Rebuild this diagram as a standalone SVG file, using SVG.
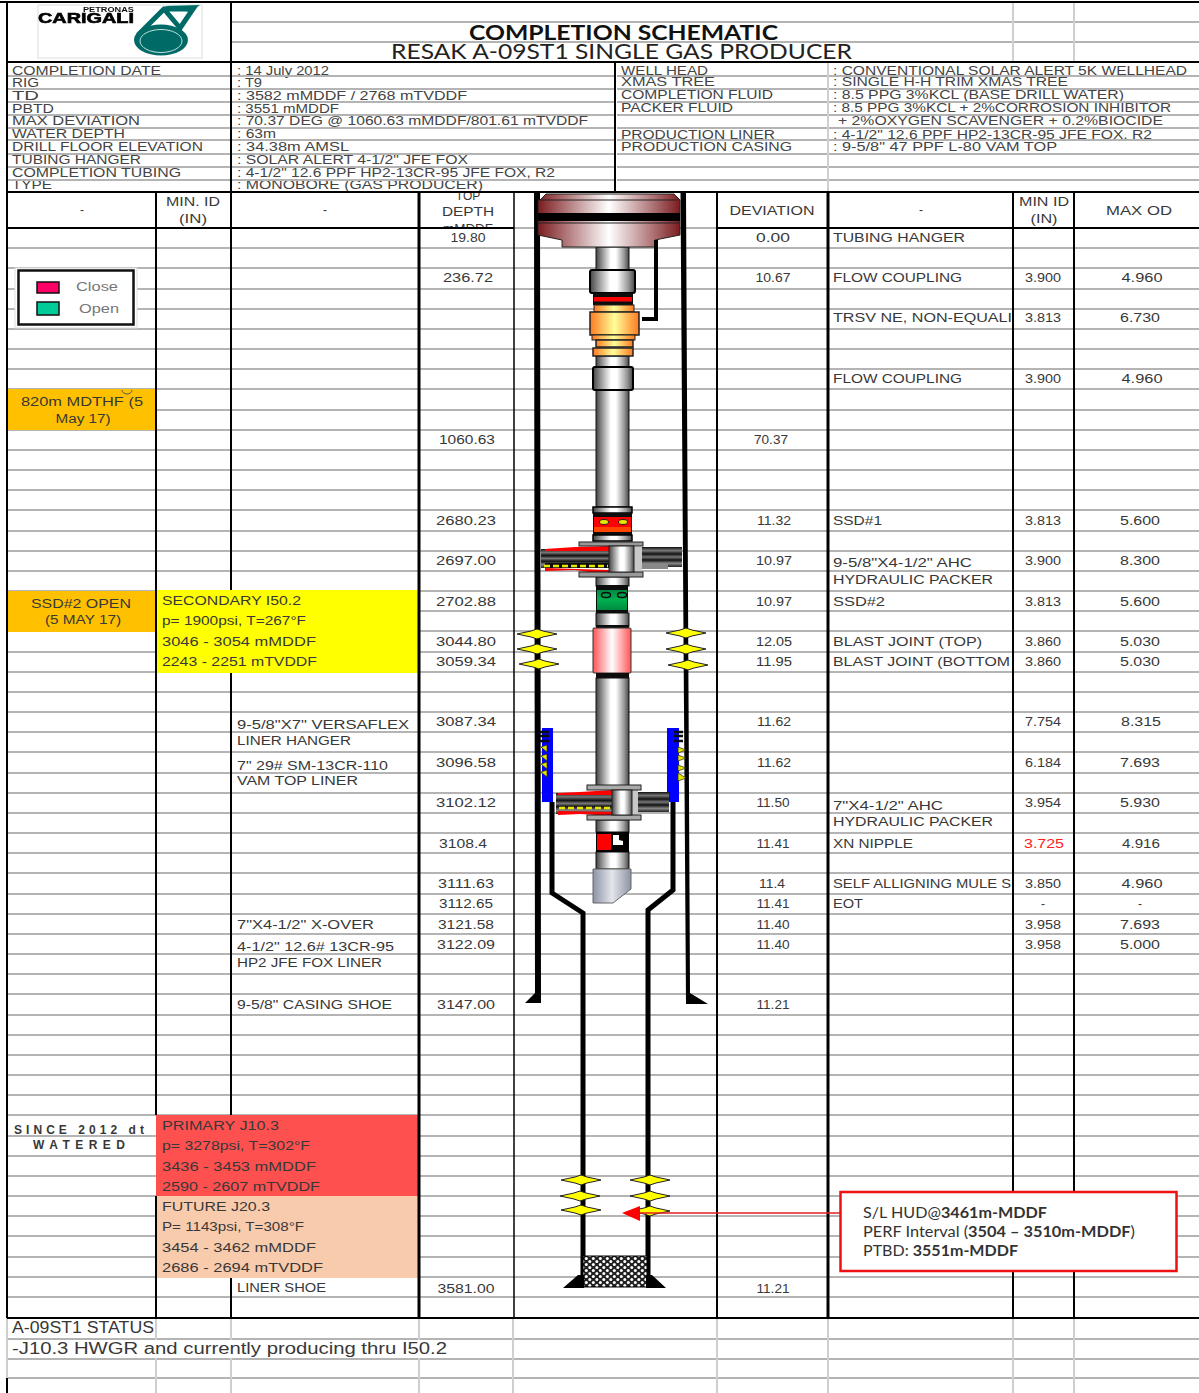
<svg xmlns="http://www.w3.org/2000/svg" width="1199" height="1393" viewBox="0 0 1199 1393">
<style>
text{font-family:"Liberation Sans",Arial,sans-serif;font-size:12px;fill:#383838;white-space:pre}
.m{font-size:12px;fill:#444}
.c{text-anchor:middle}
.l{font-family:Lato,"Open Sans",sans-serif}
.s{font-size:16px}
</style>
<defs>
<filter id="soft" x="-5%" y="-5%" width="110%" height="110%"><feGaussianBlur stdDeviation="0.5"/></filter>
<linearGradient id="metal"><stop offset="0" stop-color="#444"/><stop offset=".2" stop-color="#999"/><stop offset=".45" stop-color="#fff"/><stop offset=".6" stop-color="#fff"/><stop offset=".85" stop-color="#999"/><stop offset="1" stop-color="#444"/></linearGradient>
<linearGradient id="wine"><stop offset="0" stop-color="#7b1c20"/><stop offset=".5" stop-color="#fff"/><stop offset="1" stop-color="#7b1c20"/></linearGradient>
<linearGradient id="orange"><stop offset="0" stop-color="#ff7a20"/><stop offset=".5" stop-color="#ffff99"/><stop offset="1" stop-color="#ff7a20"/></linearGradient>
<linearGradient id="pink"><stop offset="0" stop-color="#ff5555"/><stop offset=".5" stop-color="#fff"/><stop offset="1" stop-color="#ff5555"/></linearGradient>
<linearGradient id="green" x2="0" y2="1"><stop offset="0" stop-color="#008a40"/><stop offset=".5" stop-color="#00b050"/><stop offset="1" stop-color="#008a40"/></linearGradient>
<linearGradient id="mule"><stop offset="0" stop-color="#8d93a6"/><stop offset=".5" stop-color="#e4e6ea"/><stop offset="1" stop-color="#8d93a6"/></linearGradient>
<linearGradient id="slip" x2="0" y2="1"><stop offset="0" stop-color="#111"/><stop offset=".18" stop-color="#777"/><stop offset=".35" stop-color="#111"/><stop offset=".5" stop-color="#777"/><stop offset=".65" stop-color="#111"/><stop offset=".82" stop-color="#888"/><stop offset="1" stop-color="#222"/></linearGradient>
<pattern id="sand" width="7" height="6" patternUnits="userSpaceOnUse"><rect width="7" height="6" fill="#222"/><circle cx="1.800" cy="1.500" r="1.500" fill="#fff"/><circle cx="5.300" cy="4.500" r="1.500" fill="#fff"/></pattern>
<polygon id="perf" points="-20,0 -6,-3 0,-5 6,-3 20,0 6,3 0,5 -6,3" fill="#ffff00" stroke="#222" stroke-width="1"/>
<clipPath id="hdr"><rect x="420" y="193" width="93" height="34"/></clipPath>
<clipPath id="well"><rect x="514" y="193" width="203" height="60"/></clipPath>
</defs>
<rect width="1199" height="1393" fill="#fff"/>

<g id="meta-text">
<text class="m" x="12" y="75" textLength="149" lengthAdjust="spacingAndGlyphs">COMPLETION DATE</text>
<text class="m" x="12" y="87" textLength="27" lengthAdjust="spacingAndGlyphs">RIG</text>
<text class="m" x="12" y="100" textLength="27" lengthAdjust="spacingAndGlyphs">TD</text>
<text class="m" x="12" y="113" textLength="42" lengthAdjust="spacingAndGlyphs">PBTD</text>
<text class="m" x="12" y="125" textLength="128" lengthAdjust="spacingAndGlyphs">MAX DEVIATION</text>
<text class="m" x="12" y="138" textLength="113" lengthAdjust="spacingAndGlyphs">WATER DEPTH</text>
<text class="m" x="12" y="151" textLength="191" lengthAdjust="spacingAndGlyphs">DRILL FLOOR ELEVATION</text>
<text class="m" x="12" y="164" textLength="129" lengthAdjust="spacingAndGlyphs">TUBING HANGER</text>
<text class="m" x="12" y="177" textLength="169" lengthAdjust="spacingAndGlyphs">COMPLETION TUBING</text>
<text class="m" x="12" y="189" textLength="40" lengthAdjust="spacingAndGlyphs">TYPE</text>
<text class="m" x="237" y="75" textLength="92" lengthAdjust="spacingAndGlyphs">: 14 July 2012</text>
<text class="m" x="237" y="87" textLength="25" lengthAdjust="spacingAndGlyphs">: T9</text>
<text class="m" x="237" y="100" textLength="230" lengthAdjust="spacingAndGlyphs">: 3582 mMDDF / 2768 mTVDDF</text>
<text class="m" x="237" y="113" textLength="102" lengthAdjust="spacingAndGlyphs">: 3551 mMDDF</text>
<text class="m" x="237" y="125" textLength="351" lengthAdjust="spacingAndGlyphs">: 70.37 DEG @ 1060.63 mMDDF/801.61 mTVDDF</text>
<text class="m" x="237" y="138" textLength="39" lengthAdjust="spacingAndGlyphs">: 63m</text>
<text class="m" x="237" y="151" textLength="112" lengthAdjust="spacingAndGlyphs">: 34.38m AMSL</text>
<text class="m" x="237" y="164" textLength="231" lengthAdjust="spacingAndGlyphs">: SOLAR ALERT 4-1/2" JFE FOX</text>
<text class="m" x="237" y="177" textLength="318" lengthAdjust="spacingAndGlyphs">: 4-1/2" 12.6 PPF HP2-13CR-95 JFE FOX, R2</text>
<text class="m" x="237" y="189" textLength="246" lengthAdjust="spacingAndGlyphs">: MONOBORE (GAS PRODUCER)</text>
<text class="m" x="621" y="75" textLength="87" lengthAdjust="spacingAndGlyphs">WELL HEAD</text>
<text class="m" x="621" y="86" textLength="94" lengthAdjust="spacingAndGlyphs">XMAS TREE</text>
<text class="m" x="621" y="99" textLength="152" lengthAdjust="spacingAndGlyphs">COMPLETION FLUID</text>
<text class="m" x="621" y="112" textLength="112" lengthAdjust="spacingAndGlyphs">PACKER FLUID</text>
<text class="m" x="621" y="139" textLength="154" lengthAdjust="spacingAndGlyphs">PRODUCTION LINER</text>
<text class="m" x="621" y="151" textLength="171" lengthAdjust="spacingAndGlyphs">PRODUCTION CASING</text>
<text class="m" x="833" y="75" textLength="354" lengthAdjust="spacingAndGlyphs">: CONVENTIONAL SOLAR ALERT 5K WELLHEAD</text>
<text class="m" x="833" y="86" textLength="235" lengthAdjust="spacingAndGlyphs">: SINGLE H-H TRIM XMAS TREE</text>
<text class="m" x="833" y="99" textLength="291" lengthAdjust="spacingAndGlyphs">: 8.5 PPG 3%KCL (BASE DRILL WATER)</text>
<text class="m" x="833" y="112" textLength="338" lengthAdjust="spacingAndGlyphs">: 8.5 PPG 3%KCL + 2%CORROSION INHIBITOR</text>
<text class="m" x="838" y="125" textLength="325" lengthAdjust="spacingAndGlyphs">+ 2%OXYGEN SCAVENGER + 0.2%BIOCIDE</text>
<text class="m" x="833" y="139" textLength="319" lengthAdjust="spacingAndGlyphs">: 4-1/2" 12.6 PPF HP2-13CR-95 JFE FOX, R2</text>
<text class="m" x="833" y="151" textLength="224" lengthAdjust="spacingAndGlyphs">: 9-5/8" 47 PPF L-80 VAM TOP</text>
</g>

<g id="grid">
<path fill="none" stroke="#b4b4b4" stroke-width="2" d="M232 22H1199M232 42H1199M7 76H615M7 89H615M7 102H615M7 115H615M7 128H615M7 140H615M7 154H615M7 167H615M7 180H615M617 76H1199M617 89H1199M617 102H1199M617 115H1199M617 128H1199M617 140H1199M617 154H1199M617 167H1199M617 180H1199
M7 248H1199M7 268H1199M7 289H1199M7 309H1199M7 329H1199M7 349H1199M7 369H1199M7 389H1199M7 410H1199M7 430H1199M7 450H1199M7 470H1199M7 490H1199M7 510H1199M7 531H1199M7 551H1199M7 571H1199M7 591H1199M7 611H1199M7 631H1199M7 652H1199M7 672H1199M7 692H1199M7 712H1199M7 732H1199M7 752H1199M7 773H1199M7 793H1199M7 813H1199M7 833H1199M7 853H1199M7 873H1199M7 894H1199M7 914H1199M7 934H1199M7 954H1199M7 974H1199M7 994H1199M7 1015H1199M7 1035H1199M7 1055H1199M7 1075H1199M7 1095H1199M7 1115H1199M7 1136H1199M7 1156H1199M7 1176H1199M7 1196H1199M7 1216H1199M7 1236H1199M7 1257H1199M7 1277H1199M7 1297H1199M7 1339H1199M7 1359H1199M7 1378H1199M514 228H717"/>
<path fill="none" stroke="#cfcfcf" stroke-width="2" d="M1013 2V62M1074 2V62M828 62V192M156 1318V1393M231 1318V1393M419 1318V1393M513 1318V1393M717 1318V1393M828 1318V1393M1013 1318V1393M1074 1318V1393M7 1318V1378"/>
<rect x="8" y="1340" width="504" height="18" fill="#fff"/>
<rect x="618" y="155" width="208" height="11" fill="#fff"/>
<rect x="830" y="155" width="369" height="11" fill="#fff"/>
<rect x="156" y="590" width="263" height="83" fill="#ffff00"/>
<rect x="156" y="1115" width="263" height="81" fill="#ff5050"/>
<rect x="156" y="1196" width="263" height="82" fill="#f8cbad"/>
<rect x="8" y="389" width="148" height="41" fill="#ffc000"/>
<rect x="8" y="591" width="148" height="41" fill="#ffc000"/>
<path fill="none" stroke="#000" stroke-width="2" d="M0 2H1199M7 62H1199M7 192H1199M7 228H514M717 228H1199M7 1318H1199M7 2V1318M7 1378V1393M231 2V192M615 62V192M156 192V1115M156 1196V1318M231 192V590M231 673V1115M231 1278V1318M1013 192V1318M1074 192V1318M717 192V1318"/>
<path fill="none" stroke="#000" stroke-width="3" d="M419 192V1318M828 192V1318"/>
<path fill="none" stroke="#000" stroke-width="1.500" d="M514 192V1318"/>
</g>

<g id="logo" filter="url(#soft)">
<rect x="38" y="5" width="164" height="53" fill="#fff" stroke="#ddd"/>
<text x="83" y="12" font-weight="700" style="font-size:7px;fill:#111" textLength="51" lengthAdjust="spacingAndGlyphs">PETRONAS</text>
<text x="38" y="23" font-weight="700" style="font-size:14px;fill:#000;stroke:#000;stroke-width:.6" textLength="96" lengthAdjust="spacingAndGlyphs">CARIGALI</text>
<ellipse cx="161" cy="40" rx="27" ry="15.500" fill="#006b66"/>
<ellipse cx="161" cy="41" rx="21" ry="11.500" fill="none" stroke="#bfe0dc" stroke-width="1"/>
<path d="M138 35 164 9H193L178 31M164 9 180 28" fill="none" stroke="#006b66" stroke-width="5"/>
<polygon points="164,6 200,5 190,12" fill="#006b66"/>
</g>

<g id="title">
<text class="l" x="469" y="40" font-weight="700" style="font-size:20px;fill:#111" textLength="309" lengthAdjust="spacingAndGlyphs">COMPLETION SCHEMATIC</text>
<text class="l" x="391" y="59" style="font-size:20.500px;fill:#222" textLength="461" lengthAdjust="spacingAndGlyphs">RESAK A-09ST1 SINGLE GAS PRODUCER</text>
</g>

<g id="header">
<text class="c" x="82" y="214">-</text>
<text class="c" x="193" y="206" textLength="54" lengthAdjust="spacingAndGlyphs">MIN. ID</text>
<text class="c" x="193" y="223" textLength="28" lengthAdjust="spacingAndGlyphs">(IN)</text>
<text class="c" x="325" y="214">-</text>
<g clip-path="url(#hdr)">
<text class="c" x="468" y="200">TOP</text>
<text class="c" x="468" y="216" textLength="52" lengthAdjust="spacingAndGlyphs">DEPTH</text>
<text class="c" x="468" y="233" textLength="50" lengthAdjust="spacingAndGlyphs">mMDDF</text>
</g>
<text class="c" x="772" y="215" textLength="85" lengthAdjust="spacingAndGlyphs">DEVIATION</text>
<text class="c" x="921" y="214">-</text>
<text class="c" x="1044" y="206" textLength="50" lengthAdjust="spacingAndGlyphs">MIN ID</text>
<text class="c" x="1044" y="223" textLength="27" lengthAdjust="spacingAndGlyphs">(IN)</text>
<text class="c" x="1139" y="215" textLength="66" lengthAdjust="spacingAndGlyphs">MAX OD</text>
</g>

<g id="legend">
<rect x="15" y="268" width="122" height="60" fill="#fff" stroke="#ddd"/>
<rect x="18.500" y="270.500" width="115" height="54" fill="#fff" stroke="#111" stroke-width="2.500"/>
<rect x="37" y="282" width="22" height="11" fill="#ff0066" stroke="#111" stroke-width="1.500"/>
<rect x="37" y="302" width="22" height="13" fill="#00cc99" stroke="#111" stroke-width="1.500"/>
<text class="c" x="97" y="291" style="fill:#777" textLength="42" lengthAdjust="spacingAndGlyphs">Close</text>
<text class="c" x="99" y="313" style="fill:#777" textLength="40" lengthAdjust="spacingAndGlyphs">Open</text>
</g>

<g id="left-notes">
<path d="M122 390a5 4 0 0 0 10 0" fill="none" stroke="#555"/>
<text class="c" x="82" y="406" textLength="122" lengthAdjust="spacingAndGlyphs">820m MDTHF (5</text>
<text class="c" x="83" y="423" textLength="55" lengthAdjust="spacingAndGlyphs">May 17)</text>
<text class="c" x="81" y="608" textLength="100" lengthAdjust="spacingAndGlyphs">SSD#2 OPEN</text>
<text class="c" x="83" y="624" textLength="76" lengthAdjust="spacingAndGlyphs">(5 MAY 17)</text>
<text class="c" x="79" y="1134" font-weight="700" textLength="130" lengthAdjust="spacing">SINCE 2012 dt</text>
<text class="c" x="79" y="1149" font-weight="700" textLength="92" lengthAdjust="spacing">WATERED</text>
<text x="162" y="605" textLength="139" lengthAdjust="spacingAndGlyphs">SECONDARY I50.2</text>
<text x="162" y="625" textLength="144" lengthAdjust="spacingAndGlyphs">p= 1900psi, T=267°F</text>
<text x="162" y="646" textLength="154" lengthAdjust="spacingAndGlyphs">3046 - 3054 mMDDF</text>
<text x="162" y="666" textLength="155" lengthAdjust="spacingAndGlyphs">2243 - 2251 mTVDDF</text>
<text x="162" y="1130" textLength="117" lengthAdjust="spacingAndGlyphs">PRIMARY J10.3</text>
<text x="162" y="1150" textLength="148" lengthAdjust="spacingAndGlyphs">p= 3278psi, T=302°F</text>
<text x="162" y="1171" textLength="154" lengthAdjust="spacingAndGlyphs">3436 - 3453 mMDDF</text>
<text x="162" y="1191" textLength="158" lengthAdjust="spacingAndGlyphs">2590 - 2607 mTVDDF</text>
<text x="162" y="1211" textLength="108" lengthAdjust="spacingAndGlyphs">FUTURE J20.3</text>
<text x="162" y="1231" textLength="142" lengthAdjust="spacingAndGlyphs">P= 1143psi, T=308°F</text>
<text x="162" y="1252" textLength="154" lengthAdjust="spacingAndGlyphs">3454 - 3462 mMDDF</text>
<text x="162" y="1272" textLength="161" lengthAdjust="spacingAndGlyphs">2686 - 2694 mTVDDF</text>
</g>

<g id="mid-labels">
<text x="237" y="729" textLength="172" lengthAdjust="spacingAndGlyphs">9-5/8"X7" VERSAFLEX</text>
<text x="237" y="745" textLength="114" lengthAdjust="spacingAndGlyphs">LINER HANGER</text>
<text x="237" y="770" textLength="151" lengthAdjust="spacingAndGlyphs">7" 29# SM-13CR-110</text>
<text x="237" y="785" textLength="121" lengthAdjust="spacingAndGlyphs">VAM TOP LINER</text>
<text x="237" y="929" textLength="137" lengthAdjust="spacingAndGlyphs">7"X4-1/2" X-OVER</text>
<text x="237" y="951" textLength="157" lengthAdjust="spacingAndGlyphs">4-1/2" 12.6# 13CR-95</text>
<text x="237" y="967" textLength="145" lengthAdjust="spacingAndGlyphs">HP2 JFE FOX LINER</text>
<text x="237" y="1009" textLength="155" lengthAdjust="spacingAndGlyphs">9-5/8" CASING SHOE</text>
<text x="237" y="1292" textLength="89" lengthAdjust="spacingAndGlyphs">LINER SHOE</text>
</g>

<g id="depth">
<text class="c" x="468" y="242" textLength="35" lengthAdjust="spacingAndGlyphs">19.80</text>
<text class="c" x="468" y="282" textLength="50" lengthAdjust="spacingAndGlyphs">236.72</text>
<text class="c" x="467" y="444" textLength="56" lengthAdjust="spacingAndGlyphs">1060.63</text>
<text class="c" x="466" y="525" textLength="60" lengthAdjust="spacingAndGlyphs">2680.23</text>
<text class="c" x="466" y="565" textLength="60" lengthAdjust="spacingAndGlyphs">2697.00</text>
<text class="c" x="466" y="606" textLength="60" lengthAdjust="spacingAndGlyphs">2702.88</text>
<text class="c" x="466" y="646" textLength="60" lengthAdjust="spacingAndGlyphs">3044.80</text>
<text class="c" x="466" y="666" textLength="60" lengthAdjust="spacingAndGlyphs">3059.34</text>
<text class="c" x="466" y="726" textLength="60" lengthAdjust="spacingAndGlyphs">3087.34</text>
<text class="c" x="466" y="767" textLength="60" lengthAdjust="spacingAndGlyphs">3096.58</text>
<text class="c" x="466" y="807" textLength="60" lengthAdjust="spacingAndGlyphs">3102.12</text>
<text class="c" x="463" y="848" textLength="48" lengthAdjust="spacingAndGlyphs">3108.4</text>
<text class="c" x="466" y="888" textLength="56" lengthAdjust="spacingAndGlyphs">3111.63</text>
<text class="c" x="466" y="908" textLength="54" lengthAdjust="spacingAndGlyphs">3112.65</text>
<text class="c" x="466" y="929" textLength="56" lengthAdjust="spacingAndGlyphs">3121.58</text>
<text class="c" x="466" y="949" textLength="58" lengthAdjust="spacingAndGlyphs">3122.09</text>
<text class="c" x="466" y="1009" textLength="58" lengthAdjust="spacingAndGlyphs">3147.00</text>
<text class="c" x="466" y="1293" textLength="57" lengthAdjust="spacingAndGlyphs">3581.00</text>
</g>

<g id="deviation">
<text class="c" x="773" y="242" textLength="34" lengthAdjust="spacingAndGlyphs">0.00</text>
<text class="c" x="773" y="282" textLength="35" lengthAdjust="spacingAndGlyphs">10.67</text>
<text class="c" x="771" y="444" textLength="34" lengthAdjust="spacingAndGlyphs">70.37</text>
<text class="c" x="774" y="525" textLength="34" lengthAdjust="spacingAndGlyphs">11.32</text>
<text class="c" x="774" y="565" textLength="36" lengthAdjust="spacingAndGlyphs">10.97</text>
<text class="c" x="774" y="606" textLength="36" lengthAdjust="spacingAndGlyphs">10.97</text>
<text class="c" x="774" y="646" textLength="36" lengthAdjust="spacingAndGlyphs">12.05</text>
<text class="c" x="774" y="666" textLength="36" lengthAdjust="spacingAndGlyphs">11.95</text>
<text class="c" x="774" y="726" textLength="34" lengthAdjust="spacingAndGlyphs">11.62</text>
<text class="c" x="774" y="767" textLength="34" lengthAdjust="spacingAndGlyphs">11.62</text>
<text class="c" x="773" y="807" textLength="33" lengthAdjust="spacingAndGlyphs">11.50</text>
<text class="c" x="773" y="848" textLength="33" lengthAdjust="spacingAndGlyphs">11.41</text>
<text class="c" x="772" y="888" textLength="26" lengthAdjust="spacingAndGlyphs">11.4</text>
<text class="c" x="773" y="908" textLength="33" lengthAdjust="spacingAndGlyphs">11.41</text>
<text class="c" x="773" y="929" textLength="33" lengthAdjust="spacingAndGlyphs">11.40</text>
<text class="c" x="773" y="949" textLength="33" lengthAdjust="spacingAndGlyphs">11.40</text>
<text class="c" x="773" y="1009" textLength="33" lengthAdjust="spacingAndGlyphs">11.21</text>
<text class="c" x="773" y="1293" textLength="33" lengthAdjust="spacingAndGlyphs">11.21</text>
</g>

<g id="right-labels">
<text x="833" y="242" textLength="132" lengthAdjust="spacingAndGlyphs">TUBING HANGER</text>
<text x="833" y="282" textLength="129" lengthAdjust="spacingAndGlyphs">FLOW COUPLING</text>
<text x="833" y="322" textLength="179" lengthAdjust="spacingAndGlyphs">TRSV NE, NON-EQUALI</text>
<text x="833" y="383" textLength="129" lengthAdjust="spacingAndGlyphs">FLOW COUPLING</text>
<text x="833" y="525" textLength="49" lengthAdjust="spacingAndGlyphs">SSD#1</text>
<text x="833" y="567" textLength="139" lengthAdjust="spacingAndGlyphs">9-5/8"X4-1/2" AHC</text>
<text x="833" y="584" textLength="160" lengthAdjust="spacingAndGlyphs">HYDRAULIC PACKER</text>
<text x="833" y="606" textLength="52" lengthAdjust="spacingAndGlyphs">SSD#2</text>
<text x="833" y="646" textLength="149" lengthAdjust="spacingAndGlyphs">BLAST JOINT (TOP)</text>
<text x="833" y="666" textLength="177" lengthAdjust="spacingAndGlyphs">BLAST JOINT (BOTTOM</text>
<text x="833" y="810" textLength="110" lengthAdjust="spacingAndGlyphs">7"X4-1/2" AHC</text>
<text x="833" y="826" textLength="160" lengthAdjust="spacingAndGlyphs">HYDRAULIC PACKER</text>
<text x="833" y="848" textLength="80" lengthAdjust="spacingAndGlyphs">XN NIPPLE</text>
<text x="833" y="888" textLength="178" lengthAdjust="spacingAndGlyphs">SELF ALLIGNING MULE S</text>
<text x="833" y="908" textLength="30" lengthAdjust="spacingAndGlyphs">EOT</text>
</g>

<g id="min-id">
<text class="c" x="1043" y="282" textLength="36" lengthAdjust="spacingAndGlyphs">3.900</text>
<text class="c" x="1043" y="322" textLength="36" lengthAdjust="spacingAndGlyphs">3.813</text>
<text class="c" x="1043" y="383" textLength="36" lengthAdjust="spacingAndGlyphs">3.900</text>
<text class="c" x="1043" y="525" textLength="36" lengthAdjust="spacingAndGlyphs">3.813</text>
<text class="c" x="1043" y="565" textLength="36" lengthAdjust="spacingAndGlyphs">3.900</text>
<text class="c" x="1043" y="606" textLength="36" lengthAdjust="spacingAndGlyphs">3.813</text>
<text class="c" x="1043" y="646" textLength="36" lengthAdjust="spacingAndGlyphs">3.860</text>
<text class="c" x="1043" y="666" textLength="36" lengthAdjust="spacingAndGlyphs">3.860</text>
<text class="c" x="1043" y="726" textLength="36" lengthAdjust="spacingAndGlyphs">7.754</text>
<text class="c" x="1043" y="767" textLength="36" lengthAdjust="spacingAndGlyphs">6.184</text>
<text class="c" x="1043" y="807" textLength="36" lengthAdjust="spacingAndGlyphs">3.954</text>
<text class="c" x="1044" y="848" style="fill:#ff2020" textLength="40" lengthAdjust="spacingAndGlyphs">3.725</text>
<text class="c" x="1043" y="888" textLength="36" lengthAdjust="spacingAndGlyphs">3.850</text>
<text class="c" x="1043" y="908">-</text>
<text class="c" x="1043" y="929" textLength="36" lengthAdjust="spacingAndGlyphs">3.958</text>
<text class="c" x="1043" y="949" textLength="36" lengthAdjust="spacingAndGlyphs">3.958</text>
</g>

<g id="max-od">
<text class="c" x="1142" y="282" textLength="41" lengthAdjust="spacingAndGlyphs">4.960</text>
<text class="c" x="1140" y="322" textLength="40" lengthAdjust="spacingAndGlyphs">6.730</text>
<text class="c" x="1142" y="383" textLength="41" lengthAdjust="spacingAndGlyphs">4.960</text>
<text class="c" x="1140" y="525" textLength="40" lengthAdjust="spacingAndGlyphs">5.600</text>
<text class="c" x="1140" y="565" textLength="40" lengthAdjust="spacingAndGlyphs">8.300</text>
<text class="c" x="1140" y="606" textLength="40" lengthAdjust="spacingAndGlyphs">5.600</text>
<text class="c" x="1140" y="646" textLength="40" lengthAdjust="spacingAndGlyphs">5.030</text>
<text class="c" x="1140" y="666" textLength="40" lengthAdjust="spacingAndGlyphs">5.030</text>
<text class="c" x="1141" y="726" textLength="40" lengthAdjust="spacingAndGlyphs">8.315</text>
<text class="c" x="1140" y="767" textLength="40" lengthAdjust="spacingAndGlyphs">7.693</text>
<text class="c" x="1140" y="807" textLength="40" lengthAdjust="spacingAndGlyphs">5.930</text>
<text class="c" x="1141" y="848" textLength="38" lengthAdjust="spacingAndGlyphs">4.916</text>
<text class="c" x="1142" y="888" textLength="41" lengthAdjust="spacingAndGlyphs">4.960</text>
<text class="c" x="1140" y="908">-</text>
<text class="c" x="1140" y="929" textLength="40" lengthAdjust="spacingAndGlyphs">7.693</text>
<text class="c" x="1140" y="949" textLength="40" lengthAdjust="spacingAndGlyphs">5.000</text>
</g>

<g id="status">
<text class="s" x="12" y="1333" textLength="142" lengthAdjust="spacingAndGlyphs">A-09ST1 STATUS</text>
<text class="s" x="12" y="1354" textLength="435" lengthAdjust="spacingAndGlyphs">-J10.3 HWGR and currently producing thru I50.2</text>
</g>

<g id="wellbore" filter="url(#soft)">
<g id="casing">
<path d="M534 192H540L541 1003H525L535 993Z" fill="#000"/>
<path d="M680.500 192H686L690 993L708 1004H686Z" fill="#000"/>
</g>
<g id="liner">
<path d="M552 802V893L583 913V1283M673 802V890L648 910V1283" fill="none" stroke="#000" stroke-width="5"/>
<rect x="583" y="1256" width="64" height="31" fill="url(#sand)" stroke="#000"/>
<polygon points="578,1275 584,1275 584,1288 563,1288" fill="#000"/>
<polygon points="646,1275 652,1275 666,1288 646,1288" fill="#000"/>
</g>
<g id="tubing" fill="url(#metal)" stroke="#111" stroke-width="1">
<rect x="596" y="247" width="33" height="24"/>
<rect x="596" y="356" width="33" height="12"/>
<rect x="596" y="390" width="33" height="117"/>
<rect x="596" y="577" width="33" height="9"/>
<rect x="596" y="613" width="33" height="13"/>
<rect x="596" y="678" width="33" height="108"/>
<rect x="596" y="820" width="33" height="12"/>
<rect x="596" y="852" width="33" height="17"/>
</g>
<g id="wellhead" clip-path="url(#well)">
<path d="M540 200 546 194H674L680 200V235L655 240V247H562V240L538 235V200Z" fill="url(#wine)" stroke="#222" stroke-width="1"/>
<rect x="538" y="213" width="142" height="8" fill="#000"/>
<path d="M538 223H680M540 200H678" stroke="#222" stroke-width="1"/>
</g>
<path id="control-line" d="M656 240V319H642" fill="none" stroke="#000" stroke-width="4"/>
<g id="trsv">
<rect x="590" y="270" width="45" height="23" rx="2" fill="url(#metal)" stroke="#000" stroke-width="2"/>
<rect x="593" y="293" width="40" height="12" fill="#111"/>
<rect x="594" y="297" width="38" height="4.500" fill="#ff0000"/>
<rect x="594" y="305" width="40" height="7" fill="url(#orange)" stroke="#222"/>
<rect x="590" y="312" width="49" height="23" fill="url(#orange)" stroke="#222" stroke-width="1.500"/>
<rect x="592" y="335" width="43" height="5" fill="url(#orange)" stroke="#222"/>
<rect x="596" y="340" width="37" height="7" fill="url(#orange)" stroke="#222" stroke-width="1.500"/>
<rect x="593" y="348" width="40" height="8" fill="url(#orange)" stroke="#222" stroke-width="1.500"/>
<rect x="593" y="367" width="40" height="23" rx="2" fill="url(#metal)" stroke="#000" stroke-width="2"/>
</g>
<g id="ssd1">
<rect x="593" y="507" width="39" height="6" fill="url(#metal)" stroke="#000" stroke-width="1.500"/>
<rect x="593" y="513" width="39" height="22" fill="#111"/>
<rect x="594" y="517" width="37" height="10" fill="#ff0000"/>
<rect x="594" y="527" width="37" height="5" fill="#ff4500"/>
<ellipse cx="604" cy="522" rx="4.500" ry="2.500" fill="#e6e600" stroke="#222"/>
<ellipse cx="623" cy="522" rx="4.500" ry="2.500" fill="#e6e600" stroke="#222"/>
<rect x="593" y="535" width="39" height="6" fill="url(#metal)" stroke="#000" stroke-width="1.500"/>
</g>
<g id="packer1">
<rect x="541" y="549" width="68" height="19" fill="url(#slip)"/>
<polygon points="545,549 575,547 609,546 609,551 545,551" fill="#ff0000"/>
<polygon points="545,571 575,570 609,575 609,570 545,568" fill="#ff0000"/>
<rect x="545" y="563" width="64" height="5" fill="#111"/>
<path d="M544 566H608" stroke="#e6e600" stroke-width="2.500" stroke-dasharray="6 3"/>
<rect x="634" y="547" width="48" height="20" fill="url(#slip)"/>
<rect x="642" y="563" width="26" height="6" fill="#888"/>
<rect x="634" y="547" width="8" height="26" fill="#c8c8c8"/>
<rect x="579" y="542" width="64" height="4" fill="#999" stroke="#222"/>
<rect x="579" y="572" width="64" height="5" fill="#999" stroke="#222"/>
<rect x="609" y="546" width="25" height="26" fill="url(#metal)" stroke="#222"/>
</g>
<g id="ssd2">
<rect x="596" y="585" width="32" height="28" fill="#111"/>
<rect x="597" y="590" width="30" height="20" fill="url(#green)"/>
<ellipse cx="606" cy="595" rx="4.500" ry="2.500" fill="none" stroke="#111" stroke-width="1.500"/>
<ellipse cx="622" cy="595" rx="4.500" ry="2.500" fill="none" stroke="#111" stroke-width="1.500"/>
</g>
<g id="blast-joint">
<rect x="596" y="625" width="33" height="3" fill="#111"/>
<rect x="593" y="628" width="38" height="45" rx="1" fill="url(#pink)" stroke="#333"/>
<rect x="596" y="673" width="33" height="5" fill="#111"/>
</g>
<g id="hanger">
<rect x="542" y="728" width="11" height="74" fill="#0000ff"/>
<rect x="667" y="728" width="12" height="74" fill="#0000ff"/>
<path d="M540 732H549M540 736H549M540 741H549M674 732H683M674 736H683M674 741H683" stroke="#111" stroke-width="2.500"/>
<path d="M541 747 547 745V752ZM541 756 547 754V761ZM541 764 547 762V769ZM541 772 547 770V777Z" fill="#e6e600" stroke="#222" stroke-width=".7"/>
<path d="M678 747 686 750 678 753ZM678 755 686 758 678 761ZM678 765 686 768 678 771ZM678 773 686 778 678 781Z" fill="#e6e600" stroke="#222" stroke-width=".7"/>
</g>
<g id="packer2">
<rect x="556" y="793" width="56" height="21" fill="url(#slip)"/>
<polygon points="558,793 580,792 612,790 612,795 558,795" fill="#ff0000"/>
<polygon points="558,815 580,814 612,816 612,812 558,811" fill="#ff0000"/>
<path d="M559 808H610" stroke="#e6e600" stroke-width="2.500" stroke-dasharray="6 3"/>
<rect x="632" y="792" width="37" height="20" fill="url(#slip)"/>
<rect x="632" y="790" width="6" height="25" fill="#c8c8c8"/>
<rect x="587" y="785" width="54" height="5" fill="#aaa" stroke="#222"/>
<rect x="587" y="815" width="54" height="5" fill="#aaa" stroke="#222"/>
<rect x="612" y="790" width="20" height="25" fill="url(#metal)" stroke="#222"/>
</g>
<g id="xn-nipple">
<rect x="596" y="832" width="33" height="20" fill="#000"/>
<rect x="597" y="834" width="14" height="16" fill="#ff0000"/>
<polygon points="613,835 619,835 619,840 623,841 623,845 613,845" fill="#fff"/>
</g>
<polygon id="mule" points="593,869 631,869 631,889 613,903 593,903" fill="url(#mule)" stroke="#666"/>
<g id="perforations">
<use href="#perf" x="537" y="634"/><use href="#perf" x="537" y="649"/><use href="#perf" x="539" y="664"/>
<use href="#perf" x="686" y="633"/><use href="#perf" x="686" y="649"/><use href="#perf" x="688" y="665"/>
<use href="#perf" x="581" y="1180"/><use href="#perf" x="580" y="1196"/><use href="#perf" x="581" y="1210"/>
<use href="#perf" x="650" y="1180"/><use href="#perf" x="650" y="1196"/><use href="#perf" x="650" y="1211"/>
</g>
</g>

<g id="connectors">
<line x1="636" y1="1213" x2="840" y2="1213" stroke="#e02020" stroke-width="1.500"/>
<polygon points="622,1213 640,1206 640,1221" fill="#ff0000"/>
</g>
<g id="callout">
<rect x="840.500" y="1192" width="336" height="79" fill="#fff" stroke="#ee1111" stroke-width="2.500"/>
<text class="l" x="863" y="1218" style="font-size:14.500px;fill:#333" textLength="184" lengthAdjust="spacingAndGlyphs">S/L HUD@<tspan font-weight="700">3461m-MDDF</tspan></text>
<text class="l" x="863" y="1237" style="font-size:14.500px;fill:#333" textLength="272" lengthAdjust="spacingAndGlyphs">PERF Interval (<tspan font-weight="700">3504 – 3510m-MDDF</tspan>)</text>
<text class="l" x="863" y="1256" style="font-size:14.500px;fill:#333" textLength="155" lengthAdjust="spacingAndGlyphs">PTBD: <tspan font-weight="700">3551m-MDDF</tspan></text>
</g>
</svg>
